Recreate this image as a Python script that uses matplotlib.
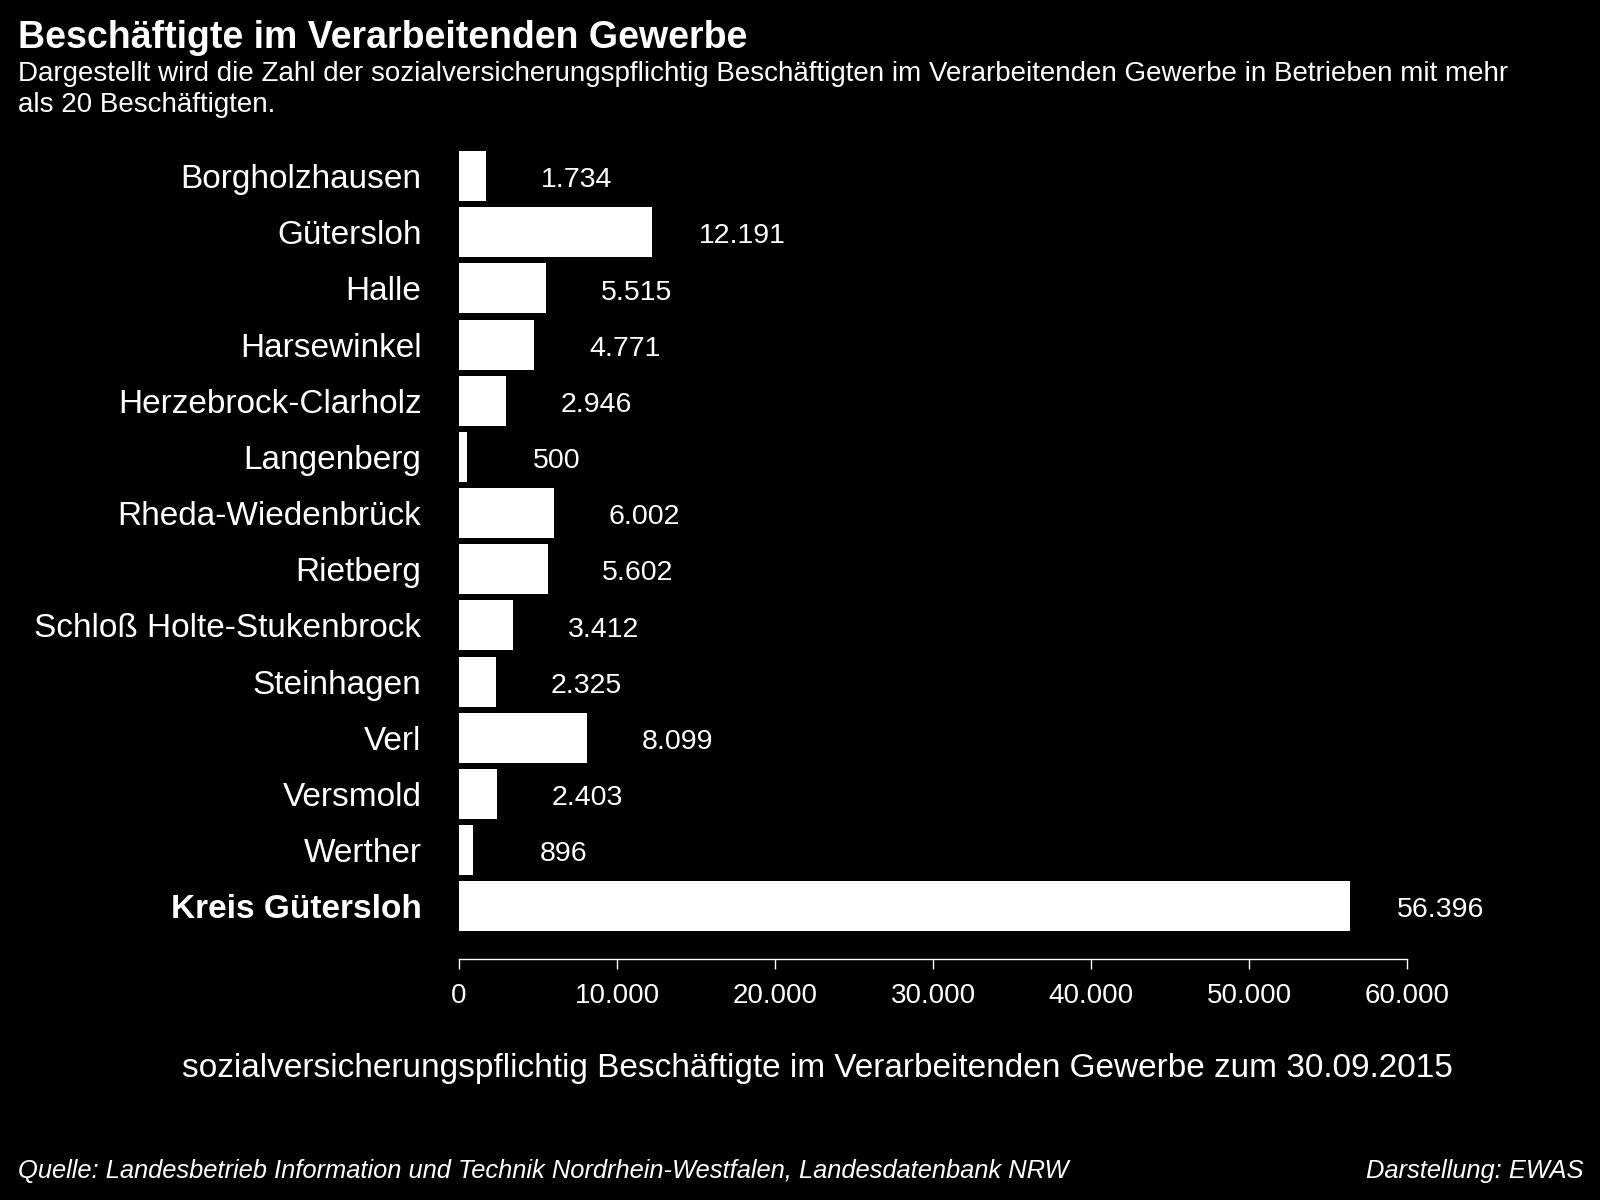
import matplotlib.pyplot as plt
from matplotlib.ticker import FuncFormatter

plt.rcParams['font.family'] = ['Liberation Sans', 'DejaVu Sans']

# Data
orte = ["Borgholzhausen", "Gütersloh", "Halle", "Harsewinkel", "Herzebrock-Clarholz",
        "Langenberg", "Rheda-Wiedenbrück", "Rietberg", "Schloß Holte-Stukenbrock",
        "Steinhagen", "Verl", "Versmold", "Werther", "Kreis Gütersloh"]
beschaeftigte = [1734, 12191, 5515, 4771, 2946, 500, 6002, 5602, 3412, 2325, 8099, 2403, 896, 56396]
xticks = [0, 10000, 20000, 30000, 40000, 50000, 60000]


def de_fmt(v, pos=None):
    return f"{int(v):,}".replace(",", ".")


fig = plt.figure(figsize=(16, 12), dpi=100, facecolor="black")
ax = fig.add_axes([459 / 1600, 1 - 959 / 1200, (1407 - 459) / 1600, (959 - 148) / 1200])
ax.set_facecolor("black")

ypos = list(range(len(orte)))
ax.barh(ypos, beschaeftigte, height=0.89, color="white")

for y, v in zip(ypos, beschaeftigte):
    ax.annotate(de_fmt(v), (v, y), xytext=(65, -3), textcoords="offset points",
                ha="center", va="center", color="white", fontsize=20.5)

ax.set_xlim(0, 60000)
ax.set_ylim(13.94, -0.5)
ax.set_yticks(ypos)
ax.set_yticklabels(orte, fontsize=24, color="white")
ax.get_yticklabels()[-1].set_fontweight("bold")
ax.tick_params(axis="y", length=0, pad=27)

ax.set_xticks(xticks)
ax.xaxis.set_major_formatter(FuncFormatter(de_fmt))
ax.tick_params(axis="x", colors="white", labelsize=20, length=7, width=1, pad=10)

for s in ["top", "right", "left"]:
    ax.spines[s].set_visible(False)
ax.spines["bottom"].set_color("white")
ax.spines["bottom"].set_linewidth(1)

# Texts
fig.text(18 / 1600, 1 - 38 / 1200, "Beschäftigte im Verarbeitenden Gewerbe",
         color="white", fontsize=27, fontweight="bold", va="center")
fig.text(18 / 1600, 1 - 74 / 1200,
         "Dargestellt wird die Zahl der sozialversicherungspflichtig Beschäftigten im Verarbeitenden Gewerbe in Betrieben mit mehr",
         color="white", fontsize=20, va="center")
fig.text(18 / 1600, 1 - 105 / 1200, "als 20 Beschäftigten.",
         color="white", fontsize=20, va="center")
fig.text(817 / 1600, 1 - 1068 / 1200,
         "sozialversicherungspflichtig Beschäftigte im Verarbeitenden Gewerbe zum 30.09.2015",
         color="white", fontsize=24, ha="center", va="center")
fig.text(18 / 1600, 1 - 1171 / 1200,
         "Quelle: Landesbetrieb Information und Technik Nordrhein-Westfalen, Landesdatenbank NRW",
         color="white", fontsize=18.4, style="italic", va="center")
fig.text(1583 / 1600, 1 - 1171 / 1200, "Darstellung: EWAS",
         color="white", fontsize=18.4, style="italic", ha="right", va="center")

fig.savefig("out.png", dpi=100, facecolor="black")
